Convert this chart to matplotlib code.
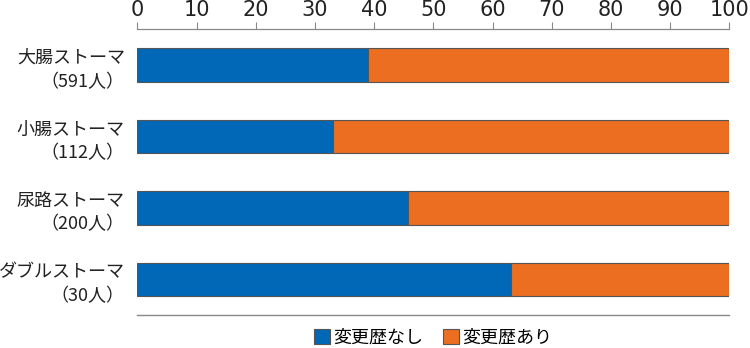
import matplotlib
matplotlib.use("Agg")
import matplotlib.pyplot as plt
from matplotlib.patches import Patch
import numpy as np

plt.rcParams['font.family'] = ['Noto Sans CJK JP', 'DejaVu Sans']

categories = ['大腸ストーマ\n（591人）', '小腸ストーマ\n（112人）', '尿路ストーマ\n（200人）', 'ダブルストーマ\n（30人）']
no_change = [38.9, 33.1, 45.8, 63.2]
changed = [100 - v for v in no_change]
series_names = ['変更歴なし', '変更歴あり']
ticks = [0, 10, 20, 30, 40, 50, 60, 70, 80, 90, 100]

blue = '#0068B7'
orange = '#EB6E21'
edge = '#555555'

fig = plt.figure(figsize=(7.5, 3.48), dpi=100)
ax = fig.add_axes([0.1831, 0.0948, 0.7893, 0.821])

y = np.arange(len(categories))
h = 0.47
ax.barh(y, no_change, height=h, color=blue, edgecolor=edge, linewidth=0.8)
ax.barh(y, changed, left=no_change, height=h, color=orange, edgecolor=edge, linewidth=0.8)

ax.set_xlim(0, 100)
ax.set_ylim(3.5, -0.5)
ax.set_yticks(y)
ax.set_yticklabels(categories, fontsize=13, linespacing=1.4, color='#222222')
ax.tick_params(axis='y', length=0, pad=9)
ax.xaxis.tick_top()
ax.set_xticks(ticks)
ax.set_xticklabels([str(t) for t in ticks], fontsize=15, family='DejaVu Sans', color='#222222')
ax.tick_params(axis='x', direction='out', length=5, width=0.8, color='#888888', pad=2)

for s in ['left', 'right']:
    ax.spines[s].set_visible(False)
ax.spines['top'].set_color('#888888')
ax.spines['top'].set_linewidth(0.9)
ax.spines['bottom'].set_color('#888888')
ax.spines['bottom'].set_linewidth(1.0)

handles = [Patch(facecolor=blue, edgecolor=edge, linewidth=0.8),
           Patch(facecolor=orange, edgecolor=edge, linewidth=0.8)]
fig.legend(handles, series_names, loc='center', bbox_to_anchor=(0.5775, 0.03),
           ncol=2, frameon=False, fontsize=13, handlelength=0.9, handleheight=0.9,
           handletextpad=0.15, columnspacing=1.1, borderaxespad=0, borderpad=0)

fig.savefig('out.png', dpi=100)
